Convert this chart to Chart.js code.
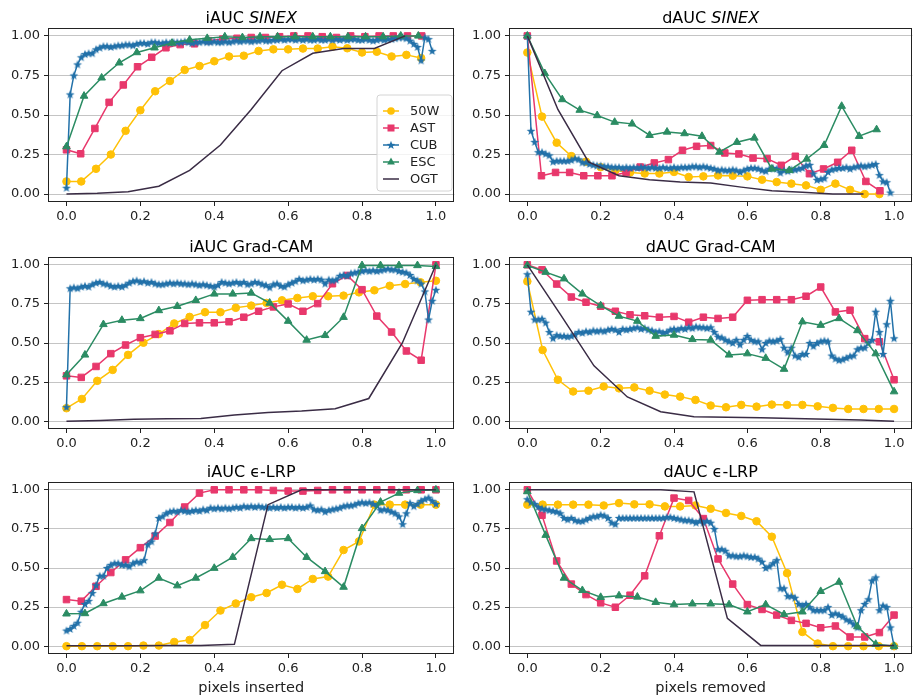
<!DOCTYPE html>
<html>
<head>
<meta charset="utf-8">
<script src="https://cdn.jsdelivr.net/npm/chart.js@4.4.0/dist/chart.umd.min.js"></script>
<style>
  body { margin: 0; background: #fff; width: 918px; height: 699px; overflow: hidden; position: relative; }
  canvas { position: absolute; }
</style>
</head>
<body>
<canvas id="c0"></canvas>
<canvas id="c1"></canvas>
<canvas id="c2"></canvas>
<canvas id="c3"></canvas>
<canvas id="c4"></canvas>
<canvas id="c5"></canvas>
<script>
'use strict'

// x grids
var x25 = [0,0.0417,0.0833,0.125,0.1667,0.2083,0.25,0.2917,0.3333,0.375,0.4167,0.4583,0.5,0.5417,0.5833,0.625,0.6667,0.7083,0.75,0.7917,0.8333,0.875,0.9167,0.9583,1];
var x26 = [0,0.04,0.08,0.12,0.16,0.2,0.24,0.28,0.32,0.36,0.4,0.44,0.48,0.52,0.56,0.6,0.64,0.68,0.72,0.76,0.8,0.84,0.88,0.92,0.96,1];
var x21 = [0,0.05,0.1,0.15,0.2,0.25,0.3,0.35,0.4,0.45,0.5,0.55,0.6,0.65,0.7,0.75,0.8,0.85,0.9,0.95,1];
var x12 = [0,0.0909,0.1818,0.2727,0.3636,0.4545,0.5455,0.6364,0.7273,0.8182,0.9091,1];
var xCub = [0,0.01,0.02,0.03,0.04,0.05,0.06,0.07,0.08,0.09,0.1,0.11,0.12,0.13,0.14,0.15,0.16,0.17,0.18,0.19,
  0.2,0.21,0.22,0.23,0.24,0.25,0.26,0.27,0.28,0.29,0.3,0.31,0.32,0.33,0.34,0.35,0.36,0.37,0.38,0.39,
  0.4,0.41,0.42,0.43,0.44,0.45,0.46,0.47,0.48,0.49,0.5,0.51,0.52,0.53,0.54,0.55,0.56,0.57,0.58,0.59,
  0.6,0.61,0.62,0.63,0.64,0.65,0.66,0.67,0.68,0.69,0.7,0.71,0.72,0.73,0.74,0.75,0.76,0.77,0.78,0.79,
  0.8,0.81,0.82,0.83,0.84,0.85,0.86,0.87,0.88,0.89,0.9,0.91,0.92,0.93,0.94,0.95,0.96,0.97,0.98,0.99,1];
// SINEX runs stop a bit short of 1
var xs25 = [0,0.04,0.08,0.12,0.16,0.2,0.24,0.28,0.32,0.36,0.4,0.44,0.48,0.52,0.56,0.6,0.64,0.68,0.72,0.76,0.8,0.84,0.88,0.92,0.96];
var xs26 = [0,0.0385,0.0769,0.1154,0.1538,0.1923,0.2308,0.2692,0.3077,0.3462,0.3846,0.4231,0.4615,0.5,0.5385,0.5769,0.6154,0.6538,0.6923,0.7308,0.7692,0.8077,0.8462,0.8846,0.9231,0.9615];
var xs21 = [0,0.0476,0.0952,0.1429,0.1905,0.2381,0.2857,0.3333,0.381,0.4286,0.4762,0.5238,0.5714,0.619,0.6667,0.7143,0.7619,0.8095,0.8571,0.9048,0.9524];
var xs12 = [0,0.0833,0.1667,0.25,0.3333,0.4167,0.5,0.5833,0.6667,0.75,0.8333,0.9167];
var xsCub = xCub.slice(0, 100);

var xTicks = [0, 0.2, 0.4, 0.6, 0.8, 1.0];
var yTicks = [0, 0.25, 0.5, 0.75, 1.0];

// iAUC SINEX
var sinexIns50W = [0.08,0.08,0.16,0.25,0.40,0.53,0.65,0.715,0.785,0.81,0.84,0.87,0.875,0.905,0.915,0.915,0.92,0.92,0.932,0.922,0.895,0.90,0.87,0.88,0.86];
var sinexInsAST = [0.28,0.255,0.415,0.58,0.69,0.805,0.865,0.925,0.945,0.95,0.97,0.98,0.985,0.99,0.99,0.995,1.0,1.0,0.995,0.99,1.0,0.995,1.0,1.0,1.0,1.0];
var sinexInsCUB = [0.04,0.63,0.75,0.82,0.865,0.885,0.89,0.89,0.915,0.925,
  0.935,0.935,0.93,0.935,0.94,0.94,0.945,0.945,0.94,0.95,
  0.955,0.955,0.95,0.96,0.96,0.955,0.955,0.96,0.955,0.96,
  0.96,0.96,0.965,0.96,0.955,0.96,0.96,0.965,0.96,0.96,
  0.965,0.96,0.96,0.965,0.96,0.965,0.97,0.965,0.97,0.97,
  0.965,0.97,0.97,0.975,0.97,0.97,0.975,0.975,0.98,0.975,
  0.98,0.98,0.975,0.98,0.975,0.98,0.975,0.975,0.98,0.975,
  0.975,0.98,0.975,0.98,0.975,0.98,0.975,0.98,0.98,0.975,
  0.975,0.98,0.975,0.97,0.975,0.98,0.975,0.98,0.98,0.985,
  0.99,0.99,0.985,0.97,0.95,0.93,0.845,0.99,0.98,0.905];
var sinexInsESC = [0.30,0.62,0.735,0.83,0.895,0.925,0.955,0.975,0.985,0.995,0.99,0.995,0.995,0.995,0.995,0.995,0.995,0.995,0.995,1.0,1.0];
var sinexInsOGT = [0,0.005,0.015,0.05,0.15,0.31,0.535,0.78,0.89,0.92,0.92,1.0];

// dAUC SINEX
var sinexDel50W = [0.895,0.49,0.325,0.24,0.205,0.17,0.15,0.137,0.13,0.13,0.14,0.108,0.112,0.118,0.116,0.112,0.091,0.076,0.066,0.055,0.027,0.066,0.027,0,0];
var sinexDelAST = [1.0,0.116,0.137,0.137,0.116,0.116,0.116,0.137,0.171,0.197,0.218,0.277,0.302,0.307,0.26,0.254,0.228,0.224,0.182,0.239,0.129,0.159,0.201,0.277,0.08,0.021];
var sinexDelCUB = [1.0,0.40,0.33,0.265,0.265,0.255,0.245,0.205,0.21,0.21,
  0.21,0.21,0.215,0.225,0.22,0.2,0.2,0.19,0.185,0.18,
  0.18,0.175,0.175,0.17,0.17,0.17,0.165,0.17,0.165,0.17,
  0.165,0.17,0.17,0.165,0.17,0.165,0.165,0.17,0.165,0.165,
  0.17,0.165,0.17,0.17,0.17,0.175,0.175,0.17,0.175,0.17,
  0.165,0.16,0.15,0.155,0.15,0.15,0.155,0.15,0.14,0.15,
  0.16,0.165,0.165,0.16,0.15,0.145,0.16,0.165,0.16,0.135,
  0.15,0.145,0.155,0.155,0.16,0.165,0.18,0.185,0.13,0.09,
  0.095,0.1,0.14,0.155,0.16,0.165,0.165,0.17,0.16,0.17,
  0.175,0.18,0.175,0.18,0.185,0.19,0.12,0.08,0.075,0.01];
var sinexDelESC = [1.0,0.763,0.598,0.531,0.497,0.455,0.444,0.372,0.393,0.383,0.366,0.266,0.328,0.355,0.159,0.15,0.222,0.309,0.556,0.366,0.408];
var sinexDelOGT = [1.0,0.535,0.203,0.116,0.091,0.076,0.07,0.044,0.021,0.011,0,0];

// iAUC Grad-CAM
var gcIns50W = [0.083,0.142,0.258,0.328,0.424,0.502,0.557,0.625,0.667,0.697,0.697,0.725,0.739,0.756,0.773,0.788,0.799,0.799,0.803,0.824,0.837,0.866,0.877,0.888,0.898];
var gcInsAST = [0.29,0.28,0.35,0.432,0.487,0.534,0.555,0.578,0.625,0.629,0.629,0.636,0.665,0.703,0.731,0.75,0.703,0.752,0.879,0.932,0.841,0.672,0.57,0.449,0.39,1.0];
var gcInsCUB = [0.09,0.85,0.855,0.85,0.86,0.865,0.86,0.875,0.885,0.89,
  0.88,0.875,0.865,0.86,0.865,0.86,0.87,0.885,0.895,0.9,
  0.89,0.895,0.885,0.89,0.88,0.875,0.875,0.88,0.885,0.88,
  0.885,0.88,0.88,0.875,0.88,0.875,0.87,0.875,0.87,0.865,
  0.86,0.87,0.89,0.885,0.88,0.885,0.89,0.88,0.89,0.875,
  0.88,0.89,0.885,0.875,0.87,0.855,0.875,0.88,0.865,0.86,
  0.875,0.885,0.895,0.91,0.9,0.905,0.91,0.905,0.91,0.905,
  0.88,0.905,0.9,0.905,0.93,0.935,0.93,0.945,0.95,0.955,
  0.96,0.965,0.96,0.965,0.96,0.965,0.97,0.975,0.97,0.97,
  0.96,0.955,0.95,0.935,0.91,0.9,0.88,0.83,0.65,0.77,
  0.84];
var gcInsESC = [0.297,0.424,0.619,0.646,0.657,0.708,0.735,0.773,0.814,0.814,0.82,0.756,0.64,0.519,0.549,0.665,0.996,0.996,0.996,0.996,0.99];
var gcInsOGT = [0,0.005,0.012,0.015,0.017,0.04,0.055,0.065,0.08,0.145,0.5,1.0];

// dAUC Grad-CAM
var gcDel50W = [0.894,0.455,0.265,0.19,0.195,0.222,0.21,0.216,0.195,0.17,0.157,0.136,0.1,0.089,0.104,0.093,0.106,0.104,0.104,0.095,0.085,0.078,0.078,0.078,0.078];
var gcDelAST = [1.0,0.968,0.877,0.794,0.761,0.735,0.703,0.68,0.674,0.665,0.67,0.633,0.665,0.657,0.665,0.773,0.777,0.777,0.777,0.799,0.858,0.699,0.71,0.528,0.508,0.265];
var gcDelCUB = [0.94,0.70,0.65,0.65,0.655,0.63,0.57,0.53,0.55,0.545,
  0.545,0.54,0.545,0.555,0.57,0.565,0.575,0.57,0.58,0.575,
  0.58,0.575,0.585,0.59,0.585,0.57,0.59,0.585,0.59,0.595,
  0.6,0.59,0.595,0.585,0.58,0.57,0.575,0.565,0.57,0.585,
  0.59,0.585,0.595,0.59,0.6,0.595,0.605,0.6,0.6,0.595,
  0.6,0.57,0.54,0.535,0.52,0.51,0.5,0.52,0.49,0.52,
  0.545,0.52,0.51,0.51,0.46,0.5,0.515,0.51,0.515,0.525,
  0.47,0.44,0.47,0.42,0.41,0.43,0.43,0.5,0.48,0.5,
  0.51,0.515,0.51,0.42,0.4,0.39,0.395,0.405,0.415,0.42,
  0.46,0.47,0.47,0.5,0.52,0.7,0.57,0.43,0.62,0.77,
  0.53];
var gcDelESC = [0.996,0.953,0.911,0.814,0.739,0.672,0.64,0.544,0.551,0.523,0.519,0.424,0.432,0.403,0.333,0.636,0.614,0.657,0.58,0.432,0.189];
var gcDelOGT = [1.0,0.68,0.354,0.155,0.06,0.028,0.025,0.022,0.017,0.012,0.008,0.0];

// iAUC e-LRP
var lrpIns50W = [0,0,0,0,0,0.004,0.004,0.027,0.04,0.135,0.228,0.273,0.313,0.34,0.393,0.366,0.43,0.445,0.615,0.67,0.905,0.905,0.905,0.905,0.905];
var lrpInsAST = [0.298,0.288,0.383,0.471,0.552,0.63,0.704,0.791,0.89,0.979,1.0,1.0,1.0,1.0,0.996,0.992,0.992,0.996,1.0,1.0,1.0,1.0,1.0,1.0,1.0,1.0];
var lrpInsCUB = [0.10,0.11,0.13,0.15,0.22,0.27,0.29,0.34,0.39,0.45,
  0.45,0.5,0.52,0.53,0.53,0.52,0.52,0.51,0.53,0.54,
  0.535,0.55,0.65,0.67,0.72,0.82,0.83,0.85,0.86,0.865,
  0.86,0.87,0.865,0.86,0.865,0.87,0.865,0.875,0.87,0.885,
  0.88,0.885,0.88,0.885,0.88,0.885,0.89,0.885,0.895,0.89,
  0.895,0.89,0.895,0.89,0.89,0.885,0.89,0.885,0.89,0.885,
  0.89,0.89,0.885,0.89,0.885,0.89,0.9,0.875,0.87,0.875,
  0.86,0.87,0.875,0.88,0.885,0.895,0.9,0.9,0.905,0.915,
  0.92,0.915,0.92,0.91,0.9,0.87,0.875,0.87,0.86,0.85,
  0.83,0.78,0.85,0.915,0.895,0.91,0.93,0.94,0.95,0.93,
  0.91];
var lrpInsESC = [0.207,0.209,0.273,0.315,0.355,0.436,0.387,0.436,0.499,0.569,0.689,0.683,0.689,0.569,0.478,0.378,0.753,0.922,0.979,0.996,1.0];
var lrpInsOGT = [0.002,0.002,0.003,0.004,0.005,0.012,0.905,1.0,1.0,1.0,1.0,1.0];

// dAUC e-LRP
var lrpDel50W = [0.905,0.905,0.905,0.905,0.905,0.9,0.915,0.907,0.907,0.894,0.894,0.9,0.879,0.852,0.833,0.799,0.7,0.467,0.091,0.017,0,0,0,0,0];
var lrpDelAST = [1.0,0.837,0.545,0.397,0.33,0.277,0.249,0.326,0.45,0.706,0.947,0.932,0.816,0.558,0.397,0.266,0.235,0.199,0.165,0.146,0.118,0.129,0.059,0.059,0.087,0.199];
var lrpDelCUB = [0.94,0.92,0.91,0.89,0.88,0.875,0.87,0.865,0.86,0.85,
  0.82,0.81,0.82,0.805,0.8,0.8,0.81,0.82,0.83,0.83,
  0.84,0.835,0.82,0.79,0.78,0.82,0.82,0.82,0.82,0.82,
  0.82,0.82,0.82,0.82,0.82,0.82,0.82,0.82,0.825,0.825,
  0.82,0.815,0.81,0.805,0.805,0.8,0.79,0.8,0.79,0.8,
  0.79,0.75,0.62,0.62,0.61,0.58,0.58,0.575,0.575,0.58,
  0.575,0.57,0.57,0.56,0.54,0.5,0.51,0.53,0.55,0.37,
  0.37,0.32,0.32,0.31,0.27,0.26,0.27,0.25,0.23,0.23,
  0.23,0.23,0.25,0.2,0.21,0.2,0.19,0.17,0.16,0.14,
  0.12,0.23,0.27,0.3,0.42,0.44,0.23,0.26,0.25,0.12,
  0.0];
var lrpDelESC = [0.989,0.71,0.436,0.357,0.313,0.323,0.315,0.281,0.266,0.271,0.271,0.266,0.22,0.266,0.203,0.22,0.351,0.41,0.125,0.013,0];
var lrpDelOGT = [1.0,1.0,1.0,1.0,1.0,0.987,0.178,0.005,0.005,0.005,0.005,0.005];

var names = ['50W', 'AST', 'CUB', 'ESC', 'OGT'];
var colors = { '50W': '#FFC107', 'AST': '#E8386C', 'CUB': '#2271A9', 'ESC': '#2B8C63', 'OGT': '#3A2C45' };
var drawOrder = { '50W': 5, 'AST': 4, 'CUB': 3, 'ESC': 2, 'OGT': 1 };
var FONT = "'DejaVu Sans', sans-serif";
var INK = '#222';

function makeStar(color) {
    var c = document.createElement('canvas');
    c.width = 10; c.height = 10;
    var g = c.getContext('2d');
    g.fillStyle = color;
    g.beginPath();
    for (var i = 0; i < 10; i++) {
        var r = i % 2 ? 1.9 : 4.6;
        var a = -Math.PI / 2 + i * Math.PI / 5;
        var px = 5 + r * Math.cos(a), py = 5.4 + r * Math.sin(a);
        if (i) g.lineTo(px, py); else g.moveTo(px, py);
    }
    g.closePath();
    g.fill();
    return c;
}
var starImg = makeStar(colors.CUB);

function dataset(name, xs, ys) {
    var col = colors[name];
    var d = {
        label: name,
        data: ys.map(function(y, i) { return { x: xs[i], y: y }; }),
        borderColor: col,
        backgroundColor: col,
        pointBackgroundColor: col,
        pointBorderColor: col,
        pointBorderWidth: 1,
        borderWidth: 1.5,
        tension: 0,
        order: drawOrder[name]
    };
    if (name === '50W') { d.pointStyle = 'circle'; d.pointRadius = 3.8; }
    if (name === 'AST') { d.pointStyle = 'rect'; d.pointRadius = 4.6; }
    if (name === 'CUB') { d.pointStyle = starImg; d.pointRadius = 4; }
    if (name === 'ESC') { d.pointStyle = 'triangle'; d.pointRadius = 4.4; }
    if (name === 'OGT') { d.pointRadius = 0; }
    return d;
}

var panels = [
    { title: [['iAUC ', false], ['SINEX', true]], legend: true, xlabel: '',
      sets: [['50W', xs25, sinexIns50W], ['AST', xs26, sinexInsAST], ['CUB', xsCub, sinexInsCUB], ['ESC', xs21, sinexInsESC], ['OGT', xs12, sinexInsOGT]] },
    { title: [['dAUC ', false], ['SINEX', true]], xlabel: '',
      sets: [['50W', xs25, sinexDel50W], ['AST', xs26, sinexDelAST], ['CUB', xsCub, sinexDelCUB], ['ESC', xs21, sinexDelESC], ['OGT', xs12, sinexDelOGT]] },
    { title: [['iAUC Grad-CAM', false]], xlabel: '',
      sets: [['50W', x25, gcIns50W], ['AST', x26, gcInsAST], ['CUB', xCub, gcInsCUB], ['ESC', x21, gcInsESC], ['OGT', x12, gcInsOGT]] },
    { title: [['dAUC Grad-CAM', false]], xlabel: '',
      sets: [['50W', x25, gcDel50W], ['AST', x26, gcDelAST], ['CUB', xCub, gcDelCUB], ['ESC', x21, gcDelESC], ['OGT', x12, gcDelOGT]] },
    { title: [['iAUC \u03F5-LRP', false]], xlabel: 'pixels inserted',
      sets: [['50W', x25, lrpIns50W], ['AST', x26, lrpInsAST], ['CUB', xCub, lrpInsCUB], ['ESC', x21, lrpInsESC], ['OGT', x12, lrpInsOGT]] },
    { title: [['dAUC \u03F5-LRP', false]], xlabel: 'pixels removed',
      sets: [['50W', x25, lrpDel50W], ['AST', x26, lrpDelAST], ['CUB', xCub, lrpDelCUB], ['ESC', x21, lrpDelESC], ['OGT', x12, lrpDelOGT]] }
];

// canvas geometry per column / row
var cols = [{ left: 0, width: 460, padRight: 5, yw: 48 }, { left: 460, width: 458, padRight: 3, yw: 49 }];
var rows = [{ top: 0, height: 225, padTop: 28, xh: 23 }, { top: 225, height: 225, padTop: 32, xh: 21 }, { top: 450, height: 249, padTop: 32, xh: 45 }];

var framePlugin = {
    id: 'frame',
    afterDatasetsDraw: function(chart) {
        var a = chart.chartArea, ctx = chart.ctx;
        ctx.save();
        ctx.strokeStyle = INK;
        ctx.lineWidth = 1;
        ctx.strokeRect(Math.round(a.left) + 0.5, Math.round(a.top) + 0.5, Math.round(a.right - a.left) - 1, Math.round(a.bottom - a.top) - 1);
        ctx.restore();
    }
};

var titlePlugin = {
    id: 'ptitle',
    afterDraw: function(chart, args, opts) {
        var parts = opts.parts;
        if (!parts) return;
        var ctx = chart.ctx, a = chart.chartArea;
        ctx.save();
        ctx.fillStyle = '#000';
        ctx.textBaseline = 'alphabetic';
        var total = 0;
        parts.forEach(function(p) {
            ctx.font = (p[1] ? 'italic ' : '') + '16px ' + FONT;
            total += ctx.measureText(p[0]).width;
        });
        var x = (a.left + a.right) / 2 - total / 2;
        parts.forEach(function(p) {
            ctx.font = (p[1] ? 'italic ' : '') + '16px ' + FONT;
            ctx.textAlign = 'left';
            ctx.fillText(p[0], x, a.top - 5);
            x += ctx.measureText(p[0]).width;
        });
        ctx.restore();
    }
};

function drawMarker(ctx, name, x, y) {
    var col = colors[name];
    ctx.fillStyle = col;
    ctx.beginPath();
    if (name === '50W') { ctx.arc(x, y, 3.8, 0, Math.PI * 2); ctx.fill(); }
    if (name === 'AST') { ctx.fillRect(x - 3.5, y - 3.5, 7, 7); }
    if (name === 'CUB') { ctx.drawImage(starImg, x - 5, y - 5); }
    if (name === 'ESC') { ctx.moveTo(x, y - 4.4); ctx.lineTo(x + 3.9, y + 2.4); ctx.lineTo(x - 3.9, y + 2.4); ctx.closePath(); ctx.fill(); }
}

var legendPlugin = {
    id: 'boxlegend',
    afterDraw: function(chart, args, opts) {
        if (!opts.show) return;
        var ctx = chart.ctx;
        var bx = 377, by = 95, bw = 75, bh = 96, r = 3;
        ctx.save();
        ctx.beginPath();
        ctx.moveTo(bx + r, by);
        ctx.arcTo(bx + bw, by, bx + bw, by + bh, r);
        ctx.arcTo(bx + bw, by + bh, bx, by + bh, r);
        ctx.arcTo(bx, by + bh, bx, by, r);
        ctx.arcTo(bx, by, bx + bw, by, r);
        ctx.closePath();
        ctx.fillStyle = 'rgba(255,255,255,0.8)';
        ctx.fill();
        ctx.strokeStyle = '#d4d4d4';
        ctx.lineWidth = 1;
        ctx.stroke();
        ctx.font = '13px ' + FONT;
        ctx.textBaseline = 'middle';
        ctx.textAlign = 'left';
        names.forEach(function(n, k) {
            var y = 111 + k * 17;
            ctx.strokeStyle = colors[n];
            ctx.lineWidth = 1.5;
            ctx.beginPath();
            ctx.moveTo(383, y);
            ctx.lineTo(399, y);
            ctx.stroke();
            drawMarker(ctx, n, 391, y);
            ctx.fillStyle = INK;
            ctx.fillText(n, 410, y + 1);
        });
        ctx.restore();
    }
};

panels.forEach(function(p, i) {
    var col = cols[i % 2], row = rows[Math.floor(i / 2)];
    var el = document.getElementById('c' + i);
    el.width = col.width;
    el.height = row.height;
    el.style.left = col.left + 'px';
    el.style.top = row.top + 'px';

    new Chart(el, {
        type: 'line',
        data: { datasets: p.sets.map(function(s) { return dataset(s[0], s[1], s[2]); }) },
        options: {
            responsive: false,
            animation: false,
            devicePixelRatio: 1,
            layout: { padding: { top: row.padTop, right: col.padRight, left: 0, bottom: 0 } },
            plugins: {
                legend: { display: false },
                tooltip: { enabled: false },
                ptitle: { parts: p.title },
                boxlegend: { show: !!p.legend }
            },
            scales: {
                x: {
                    type: 'linear', min: -0.05, max: 1.05,
                    afterBuildTicks: function(s) { s.ticks = xTicks.map(function(v) { return { value: v }; }); },
                    afterFit: function(s) { s.height = row.xh; },
                    grid: { drawOnChartArea: false, drawTicks: true, tickLength: 4, tickColor: INK, tickWidth: 1 },
                    border: { display: false },
                    ticks: { font: { family: FONT, size: 13 }, color: INK, padding: 3, maxRotation: 0, autoSkip: false,
                             callback: function(v) { return Number(v).toFixed(1); } },
                    title: { display: !!p.xlabel, text: p.xlabel, color: INK, font: { family: FONT, size: 14.5 }, padding: { top: 0, bottom: 2 } }
                },
                y: {
                    type: 'linear', min: -0.05, max: 1.05,
                    afterBuildTicks: function(s) { s.ticks = yTicks.map(function(v) { return { value: v }; }); },
                    afterFit: function(s) { s.width = col.yw; },
                    grid: { color: '#c4c4c4', lineWidth: 1, drawTicks: true, tickLength: 4, tickColor: INK, tickWidth: 1 },
                    border: { display: false },
                    ticks: { font: { family: FONT, size: 13 }, color: INK, padding: 4, autoSkip: false,
                             callback: function(v) { return Number(v).toFixed(2); } }
                }
            }
        },
        plugins: [framePlugin, titlePlugin, legendPlugin]
    });
});
</script>
</body>
</html>
